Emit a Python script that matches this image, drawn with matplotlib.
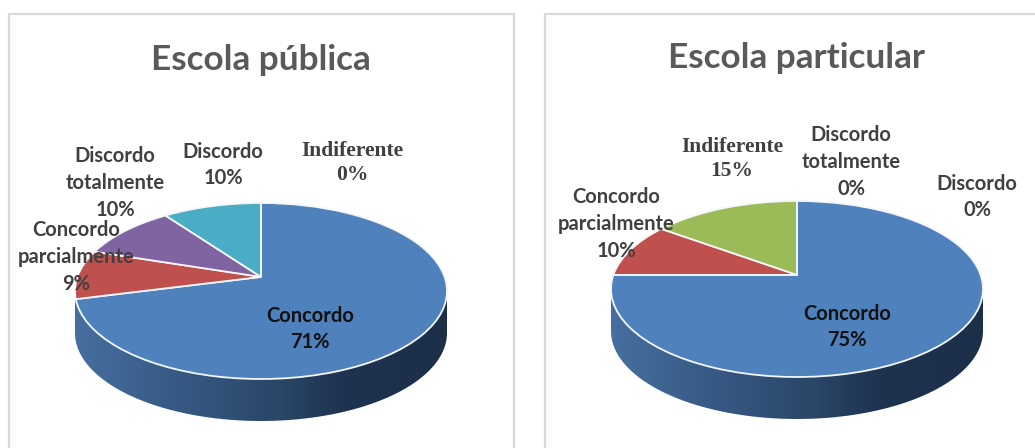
#! /usr/bin/python3

import numpy as np
import matplotlib
matplotlib.use("Agg")
import matplotlib.pyplot as plt
from matplotlib.colors import LinearSegmentedColormap
from matplotlib.patches import Polygon
from matplotlib.transforms import Transform

titles = ["Escola pública", "Escola particular"]
public_names = ["Concordo", "Concordo\nparcialmente", "Discordo\ntotalmente", "Discordo", "Indiferente"]
public_values = [71, 9, 10, 10, 0]
private_names = ["Concordo", "Concordo\nparcialmente", "Indiferente", "Discordo\ntotalmente", "Discordo"]
private_values = [75, 10, 15, 0, 0]

BLUE, RED, PURPLE, TEAL, GREEN = "#4f81bd", "#c0504d", "#8064a2", "#4bacc6", "#9bbb59"
public_colors = [BLUE, RED, PURPLE, TEAL, GREEN]
private_colors = [BLUE, RED, GREEN, PURPLE, TEAL]

W, H = 1035, 448
DEPTH = 42
TILT = 0.16  # apex sits above the centre of the ellipse, as in a 3D pie

wall_cmap = LinearSegmentedColormap.from_list(
    "wall", [(0, "#466f9f"), (0.25, "#385b86"), (0.55, "#2a4668"), (0.72, "#1e3350"), (1, "#1c2f49")]
)


class TiltedDisc(Transform):
    """Maps the unit disc to a tilted ellipse in pixel coordinates."""
    input_dims = 2
    output_dims = 2

    def __init__(self, cx, cy, rx, ry):
        super().__init__()
        self.cx, self.cy, self.rx, self.ry = cx, cy, rx, ry

    def transform_non_affine(self, values):
        x, y = values[:, 0], values[:, 1]
        w = 1 + TILT * y
        px = x * np.sqrt(1 - TILT**2) / w
        py = (y + TILT) / w
        return np.column_stack([self.cx + self.rx * px, self.cy - self.ry * py])


def draw_pie(ax, values, colors, cx, cy, rx, ry):
    ## Side wall, a gradient clipped to the lower rim
    t = np.linspace(np.pi, 2 * np.pi, 120)
    rim_x = cx + rx * np.cos(t)
    rim_y = cy - ry * np.sin(t)
    outline = np.column_stack([
        np.r_[rim_x, rim_x[::-1]],
        np.r_[rim_y, rim_y[::-1] + DEPTH],
    ])
    im = ax.imshow(
        np.linspace(0, 1, 256).reshape(1, -1),
        cmap=wall_cmap,
        extent=(cx - rx, cx + rx, cy + ry + DEPTH, cy),
        aspect="auto",
        zorder=1,
    )
    clip = Polygon(outline, closed=True, transform=ax.transData)
    im.set_clip_path(clip)

    ## Top of the pie
    wedges, _ = ax.pie(
        values,
        colors=colors,
        startangle=90,
        counterclock=False,
        wedgeprops={"edgecolor": "#f4f6f9", "linewidth": 1.3},
    )
    disc = TiltedDisc(cx, cy, rx, ry) + ax.transData
    for wedge in wedges:
        wedge.set_transform(disc)
        wedge.set_zorder(2)
        wedge.set_clip_on(False)


def label(ax, x, y, name, value, color="#404040", family="Lato", size=14.5, spacing=1.43):
    ax.text(
        x, y, f"{name}\n{value}%",
        ha="center", va="center",
        color=color, family=family, weight="bold", fontsize=size,
        linespacing=spacing, zorder=5,
    )


def serif_label(ax, x, y, name, value):
    label(ax, x, y, name, value, family="Liberation Serif", size=15.5, spacing=1.32)


def main():
    f = plt.figure(figsize=(W / 100, H / 100), dpi=100, facecolor="white")
    ax = f.add_axes([0, 0, 1, 1])

    draw_pie(ax, public_values, public_colors, 261, 291, 186, 88)
    draw_pie(ax, private_values, private_colors, 797, 289, 186, 88)

    ax.set_aspect("auto")
    ax.set_xlim(0, W)
    ax.set_ylim(H, 0)
    ax.axis("off")

    ## Chart cards
    ax.plot([9, 9, 514, 514], [H, 14, 14, H], color="#d9d9d9", lw=1.6, zorder=0)
    ax.plot([545, 545, W], [H, 14, 14], color="#d9d9d9", lw=1.6, zorder=0)

    ## Titles
    ax.text(261, 60, titles[0], ha="center", va="center", color="#595959",
            family="Lato", weight="bold", fontsize=25.3)
    ax.text(797, 58, titles[1], ha="center", va="center", color="#595959",
            family="Lato", weight="bold", fontsize=25.3)

    ## Public school labels
    label(ax, 310, 329, public_names[0], public_values[0], color="#111111")
    label(ax, 76, 257, public_names[1], public_values[1])
    label(ax, 115, 183, public_names[2], public_values[2])
    label(ax, 223, 165, public_names[3], public_values[3])
    serif_label(ax, 352, 163, public_names[4], public_values[4])

    ## Private school labels
    label(ax, 847, 327, private_names[0], private_values[0], color="#111111")
    label(ax, 616, 224, private_names[1], private_values[1])
    serif_label(ax, 732, 159, private_names[2], private_values[2])
    label(ax, 851, 162, private_names[3], private_values[3])
    label(ax, 977, 197, private_names[4], private_values[4])

    f.savefig("out.png", dpi=100)


if __name__ == '__main__':
    main()
